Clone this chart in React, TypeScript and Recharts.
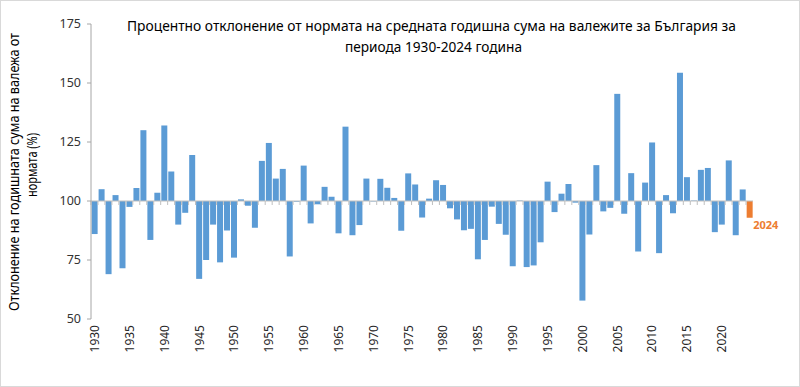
import { Bar, BarChart, Cell, LabelList, ReferenceLine, XAxis, YAxis } from "recharts";

const FIRST_YEAR = 1930;

// % of the norm, one value per year 1930..2024
const deviation = [
  86, 105, 69, 102.5, 71.5, 97.5, 105.5, 130, 83.5, 103.5,
  132, 112.5, 90, 95, 119.5, 67, 75, 90, 74, 87.5,
  76, 100.7, 98, 88.7, 117, 124.6, 109.5, 113.6, 76.5, 99.7,
  115, 90.5, 98.6, 106, 101.8, 86.3, 131.5, 85.5, 89.8, 109.5,
  99.8, 109.4, 105.6, 101.3, 87.4, 111.7, 107, 93, 101, 108.8,
  106.8, 96.9, 92.2, 87.6, 88.2, 75.3, 83.5, 97.6, 90.3, 85.7,
  72.3, 100.2, 72, 72.7, 82.5, 108.2, 95.3, 103.1, 107.2, 99.3,
  57.8, 85.8, 115.2, 95.6, 97.1, 145.4, 94.6, 111.8, 78.6, 107.8,
  124.8, 77.9, 102.5, 94.8, 154.3, 110.1, 100.2, 113.2, 114, 86.8,
  90, 117.2, 85.5, 104.9, 92.9,
];

const years = deviation.map((_, i) => FIRST_YEAR + i);
const yTicks = [50, 75, 100, 125, 150, 175];
const titleLines = [
  "Процентно отклонение от нормата на средната годишна сума на валежите за България за",
  "периода 1930-2024 година",
];
const yLabelLines = ["Отклонение на годишната сума на валежа от", "нормата (%)"];

const BLUE = "#5b9bd5";
const ORANGE = "#ed7d31";
const FONT = "'Noto Sans', sans-serif";

const rows = years.map((year, i) => ({ year, value: deviation[i] }));
const lastIndex = rows.length - 1;

function YearTick({ x, y, payload }: any) {
  if (payload.value % 5 !== 0) return null;
  const ty = y - 2;
  return (
    <text
      x={x}
      y={ty}
      transform={`rotate(-90, ${x}, ${ty})`}
      textAnchor="end"
      dominantBaseline="central"
      fontSize={12}
      fill="#262626"
      fontFamily={FONT}
    >
      {payload.value}
    </text>
  );
}

function LastLabel({ x, y, width, height, index }: any) {
  if (index !== lastIndex) return null;
  return (
    <text
      x={x + width + 0.5}
      y={y + height + 11}
      fontSize={11}
      fontWeight="bold"
      fill={ORANGE}
      fontFamily={FONT}
    >
      {rows[index].year}
    </text>
  );
}

export default function App() {
  return (
    <div
      style={{
        position: "fixed",
        left: 0,
        top: 0,
        width: 800,
        height: 387,
        background: "#fff",
        fontFamily: FONT,
      }}
    >
      <BarChart
        width={800}
        height={387}
        data={rows}
        margin={{ top: 24, right: 47, bottom: 7, left: 0 }}
        barCategoryGap="9%"
      >
        <XAxis
          dataKey="year"
          interval={0}
          axisLine={false}
          tickLine={false}
          height={61}
          tick={<YearTick />}
        />
        <YAxis
          domain={[50, 175]}
          ticks={yTicks}
          width={91}
          axisLine={{ stroke: "#a6a6a6" }}
          tickLine={{ stroke: "#a6a6a6" }}
          tickSize={4}
          tickMargin={6}
          tick={{ fontSize: 12.5, fill: "#333", fontFamily: FONT }}
        />
        <Bar
          dataKey={(d: any) => [Math.min(100, d.value), Math.max(100, d.value)]}
          isAnimationActive={false}
        >
          {rows.map((r, i) => (
            <Cell key={r.year} fill={i === lastIndex ? ORANGE : BLUE} />
          ))}
          <LabelList content={<LastLabel />} />
        </Bar>
        <ReferenceLine y={100} stroke="#bfbfbf" strokeWidth={1.2} />
        {years.map((year) => (
          <ReferenceLine
            key={year}
            segment={[
              { x: year, y: 100 },
              { x: year, y: 98.3 },
            ]}
            position="start"
            stroke="#bfbfbf"
          />
        ))}
      </BarChart>

      <svg
        width={800}
        height={387}
        style={{ position: "absolute", left: 0, top: 0, pointerEvents: "none" }}
        fontFamily={FONT}
      >
        <text x={431.5} y={31} textAnchor="middle" fontSize={13.5} fill="#000" textLength={609} lengthAdjust="spacingAndGlyphs">
          {titleLines[0]}
        </text>
        <text x={433.5} y={52} textAnchor="middle" fontSize={13.5} fill="#000" textLength={177} lengthAdjust="spacingAndGlyphs">
          {titleLines[1]}
        </text>
        <text transform="translate(19,172) rotate(-90)" textAnchor="middle" fontSize={13.5} fill="#000" textLength={278} lengthAdjust="spacingAndGlyphs">
          {yLabelLines[0]}
        </text>
        <text transform="translate(37,165) rotate(-90)" textAnchor="middle" fontSize={13.5} fill="#000" textLength={64} lengthAdjust="spacingAndGlyphs">
          {yLabelLines[1]}
        </text>
      </svg>

      <div
        style={{
          position: "absolute",
          inset: 0,
          border: "1px solid #d9d9d9",
          boxSizing: "border-box",
          pointerEvents: "none",
        }}
      />
    </div>
  );
}
